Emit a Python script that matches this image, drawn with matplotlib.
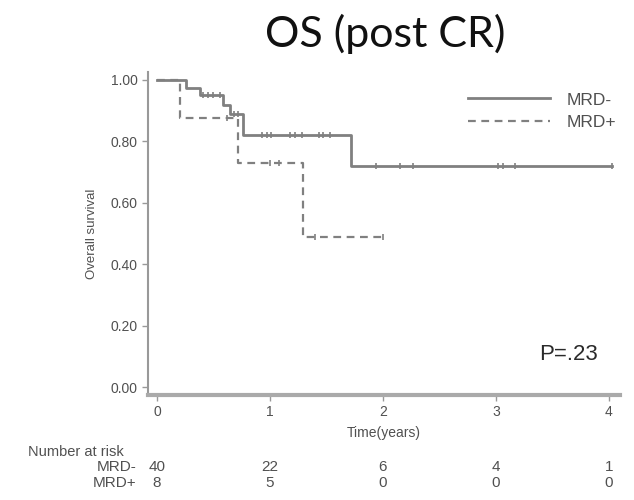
import numpy as np
import matplotlib
matplotlib.use('Agg')
import matplotlib.pyplot as plt

# KM curves
t_neg = [0.0, 0.26, 0.38, 0.58, 0.65, 0.76, 1.72, 4.03]
s_neg = [1.00, 0.975, 0.95, 0.92, 0.89, 0.82, 0.72, 0.72]
t_pos = [0.0, 0.20, 0.72, 1.29, 2.00]
s_pos = [1.00, 0.875, 0.73, 0.49, 0.49]

# censored times
c_neg = [0.41, 0.45, 0.50, 0.56, 0.68, 0.72, 0.93, 0.97, 1.01, 1.18, 1.22, 1.28,
         1.43, 1.47, 1.53, 1.94, 2.15, 2.27, 3.02, 3.06, 3.17, 4.03]
c_pos = [0.62, 1.00, 1.08, 1.40, 2.00]

risk_times = [0, 1, 2, 3, 4]
risk_neg = [40, 22, 6, 4, 1]
risk_pos = [8, 5, 0, 0, 0]

yticks = [0.0, 0.2, 0.4, 0.6, 0.8, 1.0]

gray = '#808080'
txt = '#505050'
plt.rcParams['font.family'] = ['Liberation Sans', 'DejaVu Sans']

def level(t, times, surv):
    i = np.searchsorted(times, t, side='right') - 1
    return np.array(surv)[i]

fig = plt.figure(figsize=(6.34, 5.0), dpi=100)
ax = fig.add_axes([0.2334, 0.21, 0.7446, 0.646])

ax.step(t_neg, s_neg, where='post', color=gray, lw=2.0, label='MRD-')
ax.step(t_pos, s_pos, where='post', color=gray, lw=1.6, ls=(0, (3.5, 2.5)), label='MRD+')
ax.plot(c_neg, level(c_neg, t_neg, s_neg), ls='', marker='|', ms=5, mew=1.2, color=gray)
ax.plot(c_pos, level(c_pos, t_pos, s_pos), ls='', marker='|', ms=5, mew=1.2, color=gray)

ax.set_xlim(-0.08, 4.1)
ax.set_ylim(-0.026, 1.026)
ax.set_xticks(risk_times)
ax.set_yticks(yticks)
ax.set_yticklabels(['%.2f' % v for v in yticks])
for s in ['top', 'right']:
    ax.spines[s].set_visible(False)
ax.spines['left'].set_color('#999999')
ax.spines['left'].set_linewidth(1.5)
ax.spines['bottom'].set_color('#aaaaaa')
ax.spines['bottom'].set_linewidth(3)
ax.tick_params(axis='both', colors='#999999', labelcolor=txt, labelsize=10, length=4, width=1)
ax.set_xlabel('Time(years)', fontsize=10, color=txt, labelpad=5)
ax.set_ylabel('Overall survival', fontsize=9.5, color=txt, labelpad=9)

leg = ax.legend(loc='upper left', bbox_to_anchor=((468 - 148) / 472, 0.937), frameon=False,
                fontsize=12.5, handlelength=4.7, labelspacing=0.45, handletextpad=1.0,
                borderaxespad=0, borderpad=0)
for t in leg.get_texts():
    t.set_color(txt)

ax.text(0.953, 0.124, 'P=.23', transform=ax.transAxes, fontsize=16, color='#2a2a2a',
        ha='right', va='center')

fig.text(0.607, 0.933, 'OS (post CR)', fontsize=31, family='Lato', ha='center', va='center',
         color='#111111')

# number at risk table
fig.text(28 / 634, 1 - 452 / 500, 'Number at risk', fontsize=10.5, color=txt, va='center')
fig.text(136 / 634, 1 - 467 / 500, 'MRD-', fontsize=11, color=txt, va='center', ha='right')
fig.text(136 / 634, 1 - 483 / 500, 'MRD+', fontsize=11, color=txt, va='center', ha='right')
for tt, a, b in zip(risk_times, risk_neg, risk_pos):
    xf = fig.transFigure.inverted().transform(ax.transData.transform((tt, 0)))[0]
    fig.text(xf, 1 - 467 / 500, str(a), fontsize=11, color=txt, ha='center', va='center')
    fig.text(xf, 1 - 483 / 500, str(b), fontsize=11, color=txt, ha='center', va='center')

fig.savefig('out.png', dpi=100, facecolor='white')
